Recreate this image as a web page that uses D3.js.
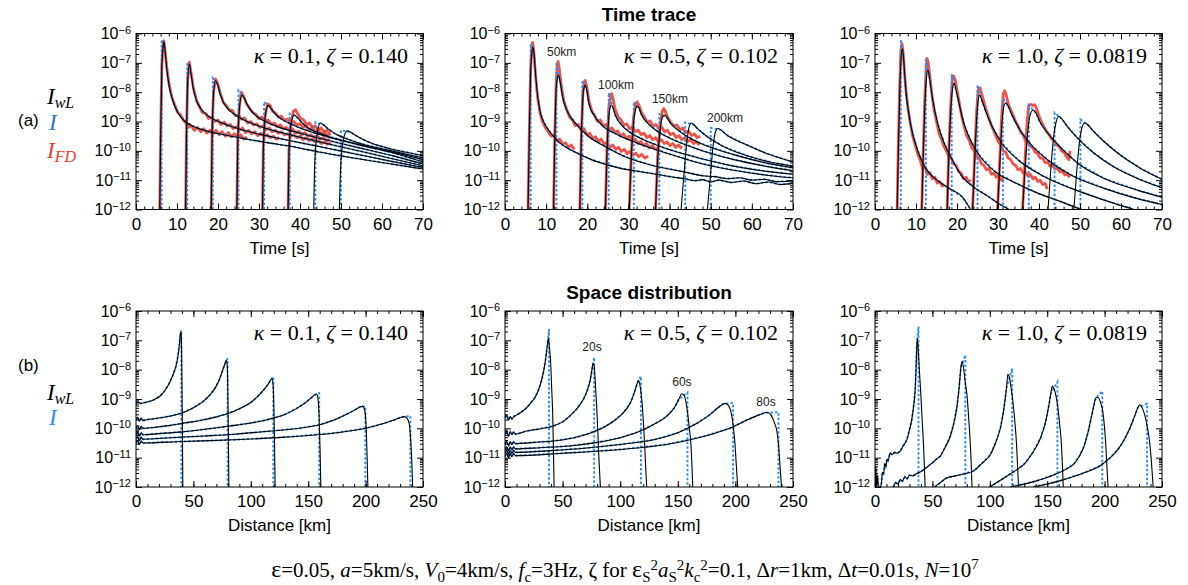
<!DOCTYPE html>
<html><head><meta charset="utf-8">
<script src="https://cdn.jsdelivr.net/npm/d3@7"></script>
<style>body{margin:0;background:#fff}svg{display:block}</style>
</head><body>
<svg id="fig" width="1188" height="585"></svg>
<script>
// ---------- axis ticks ----------
const timeTicks = [0, 10, 20, 30, 40, 50, 60, 70];
const timeMinor = d3.range(0, 71, 2);
const distTicks = [0, 50, 100, 150, 200, 250];
const distMinor = d3.range(0, 251, 10);
const decadeExps = [-12, -11, -10, -9, -8, -7, -6];

// ---------- (a) time traces: [time s, log10 intensity] ----------
// kappa = 0.1
const wlTime01 = [
  [[5.8,-12],[6.0,-9.6],[6.3,-7.2],[6.6,-6.45],[6.8,-6.28],[7.1,-6.6],[7.5,-7.2],[8.1,-7.8],[9,-8.3],[10.2,-8.7],[12,-9.0],[14.5,-9.2],[18,-9.35],[22,-9.47],[27,-9.6],[32,-9.72],[38,-9.85],[45,-10.05],[52,-10.22],[60,-10.4],[70,-10.62]],
  [[12.1,-12],[12.3,-9.6],[12.6,-7.7],[13.0,-7.05],[13.4,-7.35],[14,-7.9],[14.8,-8.3],[16,-8.6],[18,-8.85],[21,-9.05],[25,-9.25],[30,-9.43],[35,-9.58],[40,-9.72],[47,-9.92],[55,-10.15],[62,-10.35],[70,-10.57]],
  [[18.35,-12],[18.55,-9.6],[18.9,-8.1],[19.4,-7.6],[19.9,-7.75],[20.6,-8.1],[21.6,-8.42],[23,-8.65],[25,-8.85],[28,-9.05],[32,-9.25],[36,-9.4],[40,-9.54],[47,-9.77],[55,-10.02],[62,-10.25],[70,-10.51]],
  [[24.6,-12],[24.8,-9.8],[25.2,-8.6],[25.8,-8.1],[26.4,-8.2],[27.2,-8.45],[28.5,-8.7],[30,-8.88],[32,-9.03],[35,-9.2],[40,-9.4],[45,-9.58],[50,-9.75],[57,-9.98],[63,-10.18],[70,-10.45]],
  [[30.85,-12],[31.05,-10],[31.5,-8.85],[32.2,-8.45],[32.9,-8.55],[34,-8.75],[35.5,-8.92],[37.5,-9.07],[40,-9.22],[45,-9.45],[50,-9.65],[56,-9.85],[63,-10.08],[70,-10.38]],
  [[37.1,-12],[37.3,-10.1],[37.8,-9.1],[38.6,-8.78],[39.4,-8.87],[40.5,-9.05],[42,-9.22],[44,-9.36],[47,-9.51],[50,-9.63],[55,-9.8],[60,-9.96],[65,-10.12],[70,-10.3]],
  [[43.35,-12],[43.6,-10.4],[44.2,-9.4],[45.0,-9.05],[45.8,-9.12],[47,-9.27],[49,-9.45],[52,-9.62],[56,-9.8],[60,-9.93],[65,-10.08],[70,-10.24]],
  [[49.6,-12],[49.9,-10.6],[50.6,-9.6],[51.5,-9.32],[52.3,-9.36],[53.5,-9.47],[55.5,-9.62],[58,-9.77],[62,-9.93],[66,-10.05],[70,-10.17]]
];
const onsetTime01 = [6.25, 12.5, 18.75, 25, 31.25, 37.5, 43.75, 50];
const peakTime01 = [-6.2, -6.97, -7.53, -7.95, -8.33, -8.73, -9.03, -9.3];
const fdTime01 = [
  [[5.8,-12],[6.0,-9.5],[6.3,-7.1],[6.6,-6.35],[6.8,-6.25],[7.1,-6.6],[7.5,-7.15],[8.1,-7.75],[8.8,-8.2],[9.5,-8.45],[10.2,-8.7],[10.8,-8.75],[11.5,-8.95],[12.2,-9.05],[12.8,-9.2],[13.5,-9.15],[14.2,-9.3],[15,-9.2],[15.8,-9.35],[16.5,-9.25],[17.3,-9.4],[18,-9.3],[18.8,-9.42],[19.5,-9.3],[20.3,-9.45],[21,-9.35],[21.8,-9.5],[22.5,-9.38],[23.3,-9.52],[24,-9.42],[24.8,-9.55],[25.5,-9.45],[26.3,-9.6],[27,-9.52]],
  [[12.1,-12],[12.3,-9.5],[12.6,-7.6],[13.0,-6.98],[13.4,-7.3],[14,-7.85],[14.8,-8.3],[15.5,-8.5],[16.2,-8.7],[17,-8.72],[17.7,-8.9],[18.5,-8.85],[19.2,-9.0],[20,-8.95],[20.7,-9.1],[21.5,-9.02],[22.2,-9.15],[23,-9.1],[23.7,-9.25],[24.5,-9.18],[25.2,-9.3],[26,-9.22],[26.7,-9.38],[27.5,-9.3],[28.2,-9.42],[29,-9.35],[29.7,-9.48],[30.5,-9.4],[31.2,-9.5],[32,-9.45],[32.7,-9.55],[33.5,-9.5],[34.2,-9.6],[35,-9.55]],
  [[18.35,-12],[18.55,-9.5],[18.9,-8.0],[19.4,-7.55],[19.9,-7.7],[20.6,-8.05],[21.3,-8.35],[22,-8.45],[22.7,-8.6],[23.5,-8.62],[24.2,-8.8],[25,-8.78],[25.7,-8.92],[26.5,-8.88],[27.2,-9.05],[28,-9.0],[28.7,-9.12],[29.5,-9.08],[30.2,-9.2],[31,-9.15],[31.7,-9.28],[32.5,-9.22],[33.2,-9.35],[34,-9.3],[34.7,-9.4],[35.5,-9.35],[36.2,-9.45],[37,-9.42],[37.7,-9.5],[38.5,-9.45],[39.2,-9.55],[40,-9.5],[40.7,-9.62],[41.5,-9.55],[42.2,-9.65],[43,-9.6],[43.7,-9.7],[44.5,-9.65],[45.2,-9.75],[46,-9.7],[46.7,-9.78],[47.5,-9.72]],
  [[24.6,-12],[24.8,-9.7],[25.2,-8.5],[25.7,-8.0],[26.3,-8.15],[27,-8.4],[27.7,-8.55],[28.5,-8.7],[29.2,-8.75],[30,-8.9],[30.7,-8.85],[31.5,-9.0],[32.2,-8.95],[33,-9.1],[33.7,-9.05],[34.5,-9.18],[35.2,-9.12],[36,-9.25],[36.7,-9.2],[37.5,-9.32],[38.2,-9.25],[39,-9.38],[39.7,-9.33],[40.5,-9.45],[41.2,-9.38],[42,-9.5],[42.7,-9.45],[43.5,-9.55],[44.2,-9.5],[45,-9.6],[45.7,-9.55],[46.5,-9.65],[47.3,-9.6]],
  [[30.85,-12],[31.05,-9.9],[31.5,-8.8],[32.1,-8.4],[32.7,-8.45],[33.3,-8.65],[34,-8.7],[34.7,-8.85],[35.5,-8.82],[36.2,-8.95],[37,-8.92],[37.7,-9.05],[38.5,-9.0],[39.2,-9.12],[40,-9.08],[40.7,-9.2],[41.5,-9.15],[42.2,-9.28],[43,-9.22],[43.7,-9.35],[44.5,-9.3],[45.2,-9.42],[46,-9.38],[46.7,-9.48],[47.5,-9.42]],
  [[37.1,-12],[37.3,-10],[37.8,-9.0],[38.4,-8.65],[38.9,-8.6],[39.5,-8.75],[40.2,-8.9],[40.9,-8.95],[41.6,-9.1],[42.3,-9.05],[43,-9.2],[43.7,-9.15],[44.4,-9.28],[45.1,-9.22],[45.8,-9.35],[46.5,-9.3],[47.3,-9.4]]
];

// kappa = 0.5
const wlTime05 = [
  [[5.6,-12],[5.9,-9.5],[6.2,-7.5],[6.5,-6.7],[6.8,-6.45],[7.1,-6.75],[7.5,-7.5],[8,-8.2],[8.6,-8.7],[9.6,-9.07],[11.2,-9.41],[13.2,-9.72],[16.4,-10.0],[21,-10.3],[27.6,-10.58],[35.6,-10.77],[41,-10.9],[44,-10.96],[46,-11.02],[48,-10.98],[50,-11.06],[52,-11.0],[55,-11.08],[58,-11.03],[61,-11.12],[64,-11.06],[67,-11.15],[70,-11.1]],
  [[11.8,-12],[12.1,-9.6],[12.4,-8.0],[12.7,-7.55],[13.0,-7.42],[13.4,-7.65],[14,-8.16],[15.2,-8.67],[17.2,-9.07],[20.4,-9.52],[24.4,-9.86],[29.2,-10.2],[35.6,-10.49],[43.6,-10.72],[48,-10.85],[51,-10.88],[54,-10.95],[57,-10.92],[60,-11.0],[63,-10.97],[66,-11.05],[70,-11.02]],
  [[18.2,-12],[18.5,-9.8],[18.9,-8.3],[19.2,-7.85],[19.5,-7.76],[19.9,-7.95],[20.4,-8.39],[21.6,-8.78],[23.6,-9.13],[27.6,-9.47],[32.4,-9.75],[39.6,-10.09],[47.6,-10.43],[55.6,-10.66],[63.6,-10.83],[70,-10.92]],
  [[24.4,-12],[24.8,-10],[25.2,-8.9],[25.6,-8.5],[25.9,-8.44],[26.3,-8.55],[26.8,-8.78],[28.4,-9.13],[30.8,-9.41],[34.8,-9.69],[40.4,-9.98],[47.6,-10.26],[55.6,-10.52],[63.6,-10.7],[70,-10.8]],
  [[30.2,-12],[30.7,-10.2],[31.2,-9.1],[31.7,-8.6],[32.1,-8.48],[32.6,-8.55],[33.2,-8.78],[34.8,-9.07],[37.2,-9.35],[41.2,-9.64],[47.6,-9.98],[55.6,-10.3],[63.6,-10.53],[70,-10.68]],
  [[36.6,-12],[37.1,-10.3],[37.7,-9.3],[38.2,-8.88],[38.7,-8.78],[39.3,-8.85],[40.2,-9.05],[41.6,-9.24],[44.4,-9.52],[47.6,-9.75],[55.6,-10.13],[63.6,-10.42],[70,-10.58]],
  [[42.8,-12],[43.5,-10.8],[44.2,-9.7],[44.8,-9.15],[45.3,-9.05],[46,-9.12],[46.8,-9.24],[49.2,-9.52],[53.2,-9.86],[59.6,-10.2],[65,-10.4],[70,-10.52]],
  [[49.2,-12],[49.9,-10.9],[50.6,-9.8],[51.2,-9.33],[51.7,-9.24],[52.4,-9.28],[54,-9.47],[58,-9.75],[63.6,-10.09],[70,-10.38]]
];
const onsetTime05 = [6.24, 12.5, 18.8, 25.2, 31.3, 37.5, 43.8, 50];
const peakTime05 = [-6.34, -6.97, -7.6, -8.02, -8.33, -8.75, -9.03, -9.22];
const fdTime05 = [
  [[5.6,-12],[5.9,-9.4],[6.2,-7.3],[6.5,-6.45],[6.7,-6.3],[7.0,-6.6],[7.4,-7.4],[7.9,-8.15],[8.5,-8.7],[9.1,-9.0],[9.8,-9.2],[10.5,-9.35],[11.2,-9.5],[11.9,-9.45],[12.6,-9.65],[13.3,-9.6],[14,-9.78],[14.7,-9.72],[15.4,-9.88],[16.1,-9.8],[16.8,-9.95]],
  [[11.8,-12],[12.1,-9.5],[12.4,-7.8],[12.7,-7.1],[12.9,-6.95],[13.2,-7.2],[13.7,-7.8],[14.3,-8.3],[15,-8.6],[15.7,-8.85],[16.4,-8.95],[17.1,-9.15],[17.8,-9.1],[18.5,-9.3],[19.2,-9.25],[19.9,-9.45],[20.6,-9.4],[21.3,-9.58],[22,-9.52],[22.7,-9.68],[23.4,-9.6],[24.1,-9.78],[24.8,-9.7],[25.5,-9.88],[26.2,-9.8],[26.9,-9.95],[27.6,-9.88],[28.3,-10.02],[29,-9.95],[29.7,-10.1],[30.4,-10.02],[31.1,-10.15],[31.8,-10.08],[32.5,-10.2],[33.2,-10.12],[34,-10.25],[34.8,-10.18]],
  [[18.2,-12],[18.5,-9.7],[18.9,-8.1],[19.2,-7.65],[19.5,-7.6],[19.9,-7.85],[20.4,-8.3],[21.1,-8.65],[21.8,-8.8],[22.5,-9.0],[23.2,-8.95],[23.9,-9.15],[24.6,-9.1],[25.3,-9.28],[26,-9.22],[26.7,-9.38],[27.4,-9.32],[28.1,-9.5],[28.8,-9.42],[29.5,-9.58],[30.2,-9.5],[30.9,-9.66],[31.6,-9.6],[32.3,-9.75],[33,-9.68],[33.7,-9.82],[34.4,-9.75],[35.1,-9.9],[35.8,-9.82],[36.5,-9.95],[37.2,-9.88]],
  [[24.4,-12],[24.8,-9.9],[25.2,-8.6],[25.6,-8.15],[25.9,-8.05],[26.3,-8.25],[26.8,-8.6],[27.5,-8.85],[28.2,-8.95],[28.9,-9.12],[29.6,-9.08],[30.3,-9.25],[31,-9.2],[31.7,-9.35],[32.4,-9.3],[33.1,-9.45],[33.8,-9.4],[34.5,-9.55],[35.2,-9.48],[35.9,-9.62],[36.6,-9.55],[37.3,-9.7],[38,-9.62],[38.7,-9.75],[39.4,-9.7],[40.1,-9.82],[40.8,-9.75],[41.5,-9.88],[42.2,-9.8],[43,-9.92]],
  [[30.2,-12],[30.7,-10.1],[31.2,-8.9],[31.7,-8.45],[32.1,-8.33],[32.6,-8.45],[33.2,-8.7],[33.9,-8.85],[34.6,-9.02],[35.3,-8.98],[36,-9.15],[36.7,-9.1],[37.4,-9.25],[38.1,-9.2],[38.8,-9.35],[39.5,-9.3],[40.2,-9.45],[40.9,-9.4],[41.6,-9.55],[42.3,-9.48],[43,-9.62],[43.7,-9.55],[44.4,-9.68],[45.1,-9.62],[45.8,-9.75],[46.5,-9.7],[47.3,-9.8]],
  [[36.6,-12],[37.1,-10.2],[37.7,-9.1],[38.2,-8.65],[38.6,-8.56],[39.1,-8.7],[39.7,-8.9],[40.4,-9.05],[41.1,-9.15],[41.8,-9.12],[42.5,-9.28],[43.2,-9.22],[43.9,-9.38],[44.6,-9.32],[45.3,-9.48],[46,-9.42],[46.7,-9.55],[47.5,-9.5]]
];

// kappa = 1.0
const wlTime10 = [
  [[5.4,-12],[5.7,-10],[6.0,-8.2],[6.3,-7.0],[6.7,-6.51],[7.0,-6.9],[7.3,-7.5],[7.6,-8.05],[8.2,-8.7],[8.8,-9.18],[10.1,-9.86],[11.7,-10.43],[13.3,-10.77],[15.7,-11.06],[18.1,-11.28],[21.3,-11.57],[23.3,-12]],
  [[11.4,-12],[11.8,-10],[12.2,-8.3],[12.5,-7.6],[12.9,-7.25],[13.3,-7.5],[13.7,-7.9],[14.1,-8.27],[15.3,-9.07],[16.9,-9.75],[18.9,-10.32],[21.3,-10.89],[24.5,-11.28],[27.8,-11.57],[30.2,-11.8],[32.6,-12]],
  [[17.6,-12],[18.0,-10.2],[18.5,-8.6],[18.9,-7.9],[19.3,-7.7],[19.8,-7.95],[20.5,-8.39],[21.7,-9.07],[23.3,-9.64],[25.7,-10.2],[29.4,-10.72],[34.2,-11.09],[39.8,-11.45],[45.5,-11.74],[50.3,-12]],
  [[23.8,-12],[24.3,-10.4],[24.8,-8.9],[25.2,-8.25],[25.5,-8.1],[26,-8.25],[26.9,-8.61],[28.6,-9.18],[31,-9.75],[35,-10.32],[40.6,-10.83],[47.9,-11.28],[55.9,-11.68],[63.2,-12]],
  [[29.9,-12],[30.4,-10.6],[30.9,-9.2],[31.4,-8.5],[31.9,-8.36],[32.5,-8.48],[33.4,-8.78],[35.4,-9.3],[38.2,-9.81],[42.2,-10.32],[47.9,-10.83],[55.9,-11.28],[64,-11.63],[70,-11.83]],
  [[36.0,-12],[36.6,-10.6],[37.3,-9.3],[37.9,-8.75],[38.6,-8.61],[39.3,-8.72],[40.2,-9.01],[42.2,-9.41],[45.5,-9.92],[49.5,-10.43],[55.9,-10.94],[64,-11.34],[70,-11.58]],
  [[42.2,-12],[42.9,-10.6],[43.6,-9.5],[44.2,-9.0],[44.8,-8.82],[45.5,-8.9],[46.7,-9.13],[49.5,-9.58],[53.5,-10.09],[58.3,-10.55],[64,-10.94],[70,-11.26]],
  [[48.5,-12],[49.2,-10.7],[49.9,-9.65],[50.5,-9.2],[51.1,-9.05],[51.8,-9.1],[53.1,-9.3],[55.9,-9.69],[59.9,-10.15],[64.8,-10.6],[70,-10.97]]
];
const onsetTime10 = [6.3, 12.4, 18.7, 25.0, 31.2, 37.5, 43.8, 50.1];
const peakTime10 = [-6.2, -6.82, -7.39, -7.76, -8.2, -8.44, -8.7, -8.93];
const fdTime10 = [
  [[5.4,-12],[5.7,-9.8],[6.0,-7.9],[6.3,-6.6],[6.6,-6.35],[6.9,-6.7],[7.2,-7.35],[7.6,-8.0],[8.1,-8.6],[8.6,-9.05],[9.2,-9.5],[9.8,-9.8],[10.4,-10.1],[11.0,-10.3],[11.6,-10.6],[12.2,-10.55],[12.8,-10.8],[13.4,-10.75],[14,-10.95],[14.6,-10.9],[15.2,-11.1],[15.8,-11.05],[16.4,-11.2],[17,-11.15]],
  [[11.4,-12],[11.8,-9.8],[12.2,-8.0],[12.5,-7.1],[12.7,-6.85],[13.0,-7.0],[13.4,-7.5],[13.9,-8.1],[14.4,-8.6],[15,-9.0],[15.6,-9.4],[16.2,-9.6],[16.8,-9.85],[17.4,-10.0],[18,-10.2],[18.6,-10.25],[19.2,-10.45],[19.8,-10.5],[20.4,-10.7],[21,-10.75],[21.6,-10.95],[22.2,-10.9],[22.8,-11.05],[23.4,-11.0]],
  [[17.6,-12],[18.0,-10.0],[18.5,-8.3],[18.9,-7.5],[19.2,-7.45],[19.6,-7.6],[20.1,-8.0],[20.6,-8.4],[21.2,-8.85],[21.8,-9.2],[22.4,-9.5],[23,-9.65],[23.6,-9.9],[24.2,-10.0],[24.8,-10.2],[25.4,-10.25],[26,-10.45],[26.6,-10.5],[27.2,-10.65],[27.8,-10.6],[28.4,-10.8],[29,-10.75],[29.6,-10.9],[30.2,-10.85],[30.8,-11.0],[31.4,-10.95]],
  [[23.8,-12],[24.3,-10.2],[24.8,-8.6],[25.2,-7.9],[25.6,-7.85],[26,-8.05],[26.5,-8.3],[27.1,-8.6],[27.7,-8.85],[28.3,-9.1],[28.9,-9.3],[29.5,-9.5],[30.1,-9.7],[30.7,-9.8],[31.3,-10.0],[31.9,-10.05],[32.5,-10.25],[33.1,-10.3],[33.7,-10.45],[34.3,-10.5],[34.9,-10.65],[35.5,-10.6],[36.1,-10.75],[36.7,-10.72],[37.3,-10.85],[37.9,-10.8],[38.5,-10.95],[39.1,-10.9],[39.7,-11.05],[40.3,-11.0],[40.9,-11.15],[41.5,-11.1],[42,-11.3]],
  [[29.9,-12],[30.4,-10.4],[30.9,-8.8],[31.3,-8.05],[31.6,-7.95],[32,-8.1],[32.5,-8.4],[33.1,-8.6],[33.7,-8.8],[34.3,-9.0],[34.9,-9.15],[35.5,-9.35],[36.1,-9.45],[36.7,-9.65],[37.3,-9.7],[37.9,-9.85],[38.5,-9.9],[39.1,-10.05],[39.7,-10.1],[40.3,-10.25],[40.9,-10.25],[41.5,-10.4],[42.1,-10.38],[42.7,-10.52],[43.3,-10.5],[43.9,-10.62],[44.5,-10.6],[45.1,-10.72],[45.7,-10.7],[46.3,-10.82],[46.9,-10.8],[47.5,-10.9]],
  [[36.0,-12],[36.6,-10.3],[37.1,-9.0],[37.5,-8.45],[38.0,-8.42],[38.5,-8.45],[39,-8.43],[39.5,-8.6],[40.1,-8.85],[40.7,-9.05],[41.3,-9.2],[41.9,-9.35],[42.5,-9.45],[43.1,-9.6],[43.7,-9.65],[44.3,-9.8],[44.9,-9.85],[45.5,-10.0],[46.1,-10.05],[46.7,-10.2],[47.3,-10.3],[47.6,-10.0]]
];

// ---------- (b) space distributions: [distance km, log10 intensity] ----------
const wlSpace01 = [
  [[0,-9.14],[2,-9.1],[4,-9.15],[8,-9.12],[13,-9.07],[17,-9.0],[21.5,-8.88],[25,-8.72],[29,-8.46],[32,-8.2],[34.7,-7.9],[36.5,-7.55],[37.8,-7.15],[38.7,-6.72],[39.3,-6.78],[39.8,-7.6],[40.3,-9.5],[40.8,-12]],
  [[0,-9.71],[1.5,-9.62],[3,-9.76],[4.5,-9.66],[6,-9.73],[10,-9.7],[20,-9.65],[30,-9.58],[40,-9.48],[50,-9.3],[58,-9.1],[64,-8.88],[69,-8.62],[72.5,-8.35],[75,-8.08],[77,-7.85],[78.6,-7.68],[79.3,-7.78],[79.9,-8.5],[80.4,-10],[80.9,-12]],
  [[0,-9.99],[1.5,-9.9],[3,-10.05],[4.5,-9.93],[6,-10.0],[15,-9.97],[30,-9.9],[42,-9.82],[55,-9.74],[71,-9.6],[82,-9.47],[91.5,-9.31],[100,-9.12],[106,-8.91],[111,-8.7],[115,-8.5],[117.5,-8.34],[118.6,-8.32],[119.4,-8.5],[120.1,-9.3],[120.7,-10.6],[121.2,-12]],
  [[0,-10.22],[1.5,-10.12],[3,-10.27],[4.5,-10.15],[6,-10.22],[20,-10.18],[40,-10.12],[56.6,-10.05],[80,-9.93],[100,-9.82],[115,-9.7],[129,-9.54],[140,-9.32],[147,-9.14],[152,-8.98],[155.7,-8.86],[157.2,-8.83],[158.4,-8.95],[159.5,-9.6],[160.3,-10.7],[161,-12]],
  [[0,-10.37],[1.5,-10.28],[3,-10.42],[4.5,-10.3],[6,-10.37],[30,-10.32],[60,-10.26],[85.7,-10.2],[115,-10.1],[144,-9.99],[160,-9.88],[173,-9.71],[183,-9.53],[190.7,-9.37],[195,-9.27],[197.3,-9.25],[199,-9.35],[200.3,-9.8],[201.2,-10.8],[202,-12]],
  [[0,-10.5],[1.5,-10.42],[3,-10.55],[4.5,-10.44],[6,-10.5],[40,-10.45],[85.7,-10.39],[130,-10.3],[173,-10.16],[200,-10.0],[217,-9.82],[226,-9.7],[231,-9.62],[234,-9.6],[236.5,-9.68],[238,-9.85],[239.3,-10.4],[240.3,-11.2],[241,-12]]
];
const frontSpace01 = [39.5, 79.8, 119.6, 159.6, 199.8, 239];
const peakSpace01 = [-6.66, -7.62, -8.23, -8.8, -9.24, -9.58];

const wlSpace05 = [
  [[0,-9.64],[1.5,-9.55],[3,-9.72],[4.5,-9.6],[6,-9.68],[7.5,-9.6],[9.9,-9.55],[14,-9.45],[18.7,-9.3],[22,-9.15],[26,-8.95],[29,-8.7],[31.8,-8.35],[33.8,-8.0],[35.6,-7.55],[36.8,-7.15],[37.6,-6.93],[38.5,-7.2],[39.7,-7.8],[40.6,-8.7],[41.4,-9.5],[42,-10.6],[42.6,-12]],
  [[0,-10.2],[1.5,-10.1],[3,-10.28],[4.5,-10.12],[6,-10.22],[7.5,-10.12],[9,-10.2],[18.7,-10.09],[30,-10.02],[42,-9.92],[50,-9.78],[56.6,-9.57],[62,-9.35],[68.2,-9.0],[71.5,-8.7],[74,-8.35],[75.3,-8.05],[76.3,-7.8],[77.3,-7.85],[78.4,-8.46],[79.5,-9.2],[80.5,-10.05],[81.5,-11],[82.8,-12]],
  [[0,-10.54],[1.5,-10.44],[3,-10.6],[4.5,-10.45],[6,-10.56],[7.5,-10.46],[9,-10.52],[25,-10.48],[42,-10.43],[60,-10.32],[71,-10.2],[85,-9.98],[94.5,-9.75],[102,-9.5],[109,-9.12],[112.5,-8.75],[114.9,-8.45],[115.8,-8.36],[117,-8.5],[119.2,-9.24],[120.3,-9.9],[121.3,-10.6],[122.2,-11.4],[123,-12]],
  [[0,-10.72],[1.5,-10.62],[3,-10.78],[4.5,-10.63],[6,-10.74],[7.5,-10.64],[9,-10.7],[30,-10.66],[56,-10.6],[80,-10.48],[100,-10.32],[116,-10.12],[129.4,-9.86],[140,-9.6],[147,-9.3],[151,-9.0],[153.4,-8.82],[155.5,-8.88],[158.6,-9.5],[160,-10.0],[161.5,-10.6],[162.3,-11.3],[163,-12]],
  [[0,-10.84],[1.5,-10.74],[3,-10.9],[4.5,-10.76],[6,-10.86],[7.5,-10.76],[9,-10.82],[40,-10.76],[71,-10.67],[100,-10.55],[129,-10.39],[150,-10.15],[167,-9.82],[177,-9.56],[184.8,-9.3],[189,-9.18],[191.2,-9.15],[193.5,-9.2],[196.5,-9.5],[198.2,-9.95],[199.4,-10.4],[200.7,-11.2],[202,-12]],
  [[0,-10.95],[1.5,-10.85],[3,-11.0],[4.5,-10.86],[6,-10.97],[7.5,-10.86],[9,-10.93],[50,-10.85],[100,-10.72],[140,-10.55],[173,-10.27],[195,-10.0],[211,-9.7],[220,-9.55],[225.7,-9.47],[228,-9.46],[231,-9.55],[234,-9.82],[236,-10.1],[237.3,-10.5],[238.6,-11.2],[240,-12]]
];
const frontSpace05 = [38.2, 77.4, 118.0, 158.4, 198.0, 237.4];
const peakSpace05 = [-6.62, -7.58, -8.23, -8.78, -9.13, -9.45];

const wlSpace10 = [
  [[0,-11.8],[0.7,-11.3],[1.4,-12],[2.2,-11.6],[3,-12],[4.4,-12],[5.5,-11.9],[6.5,-11.5],[7.5,-11.55],[8.5,-11.2],[9.5,-11.3],[10.5,-11.05],[11.5,-11.1],[13.1,-10.84],[15,-10.9],[17,-10.82],[19,-10.85],[21.9,-10.78],[24.5,-10.6],[27.7,-10.39],[30,-10.05],[32,-9.71],[33.6,-9.25],[35,-8.69],[35.8,-7.9],[36.4,-7.2],[36.8,-6.93],[37.5,-7.2],[38.5,-7.9],[40,-8.9],[41.2,-9.8],[42.3,-10.6],[43,-11.3],[43.7,-12]],
  [[16,-12],[18,-11.85],[20,-11.9],[21.9,-11.75],[24,-11.8],[26,-11.65],[28,-11.72],[30,-11.6],[33,-11.62],[36,-11.55],[39,-11.5],[42.3,-11.41],[46,-11.3],[50,-11.18],[53.5,-11.05],[56.9,-10.95],[61,-10.65],[65.6,-10.27],[68.5,-9.85],[71.4,-9.26],[73.3,-8.6],[74.9,-7.9],[75.8,-7.72],[77,-7.9],[78.5,-8.4],[80.2,-8.9],[81.7,-9.7],[83.1,-10.6],[84,-11.4],[84.5,-12]],
  [[52,-12],[56.9,-11.85],[62,-11.7],[70,-11.62],[78,-11.55],[86,-11.45],[93,-11.2],[100.6,-10.89],[105,-10.5],[109.3,-9.98],[112,-9.4],[114.6,-8.61],[115.7,-8.16],[117,-8.25],[118.5,-8.6],[120.4,-9.18],[122,-9.85],[123.3,-10.55],[124.2,-11.3],[125,-12]],
  [[100,-12],[110,-11.75],[118,-11.55],[124,-11.4],[129.7,-11.23],[137,-10.85],[144.3,-10.32],[148.5,-9.8],[151.6,-9.18],[153.2,-8.8],[154.5,-8.56],[156,-8.65],[158.9,-9.18],[160.8,-9.85],[162.4,-10.55],[163.3,-11.3],[164,-12]],
  [[118,-12],[140,-11.8],[155,-11.6],[166,-11.4],[173.5,-11.2],[178,-10.95],[182.2,-10.6],[185.5,-10.15],[188,-9.7],[190.5,-9.25],[192.4,-8.96],[194.3,-8.95],[196.3,-9.1],[198.3,-9.4],[199.8,-9.9],[201,-10.55],[202,-11.3],[203,-12]],
  [[138,-12],[160,-11.8],[180,-11.55],[195,-11.3],[205,-11.0],[212,-10.7],[217,-10.4],[222,-10.0],[226,-9.6],[228.9,-9.3],[230.5,-9.2],[232.5,-9.28],[235,-9.55],[237.2,-9.95],[239,-10.4],[240.5,-11.0],[241.6,-11.6],[242.3,-12]]
];
const frontSpace10 = [37.9, 78.7, 119.5, 158.9, 198.0, 237.0];
const peakSpace10 = [-6.53, -7.5, -7.96, -8.42, -8.73, -9.16];

// ---------- page labels ----------
const kappaLabels = [["0.1", "0.140"], ["0.5", "0.102"], ["1.0", "0.0819"]];
const rangeLabels = ["50km", "100km", "150km", "200km"];
const rangeAnchor = [[10.2, -6.77], [22.6, -7.89], [35.7, -8.37], [49.1, -9.02]];
const lapseLabels = ["20s", "60s", "80s"];
const lapseAnchor = [[75.5, -7.36], [153.6, -8.56], [226.6, -9.24]];

// ---------- layout ----------
const colX = [[136, 423], [505, 793], [875, 1162]];
const rowY = [[33.5, 209.5], [311, 487]];
const BLUE = "#2b8ef0", RED = "#ee3a2e", BLACK = "#000";
const SANS = "'Liberation Sans', Arial, Helvetica, sans-serif";
const SERIF = "'Liberation Serif', 'Times New Roman', serif";

const svg = d3.select("#fig");
const defs = svg.append("defs");
const ten = e => Math.pow(10, e);
const minorLog = [];
for (let d = -12; d < -6; d++) for (let k = 2; k <= 9; k++) minorLog.push(k * ten(d));

// blue solution of the time traces: jump at the onset, then the decay shared with I_wL
function blueTime(curve, onset, peak) {
  const top = d3.maxIndex(curve, d => d[1]);
  return [[onset, -12], [onset, peak]].concat(curve.slice(top + 1));
}
// blue solution of the space profiles: rising flank shared with I_wL, drop at the front
function blueSpace(curve, front, peak) {
  const top = d3.maxIndex(curve, d => d[1]);
  return curve.slice(0, top).concat([[front, peak], [front, -12]]);
}

function drawPanel(id, row, col, o) {
  const [x0, x1] = colX[col], [y0, y1] = rowY[row];
  const x = d3.scaleLinear().domain(o.xDomain).range([x0, x1]);
  const y = d3.scaleLog().domain([1e-12, 1e-6]).range([y1, y0]);
  defs.append("clipPath").attr("id", "clip" + id)
    .append("rect").attr("x", x0).attr("y", y0).attr("width", x1 - x0).attr("height", y1 - y0);
  const g = svg.append("g");
  const plot = g.append("g").attr("clip-path", `url(#clip${id})`);
  const straight = d3.line().x(d => x(d[0])).y(d => y(ten(d[1])));
  const smooth = d3.line().x(d => x(d[0])).y(d => y(ten(d[1]))).curve(d3.curveMonotoneX);

  (o.fd || []).forEach(s => plot.append("path").attr("d", straight(s))
    .attr("fill", "none").attr("stroke", RED).attr("stroke-width", 2.8)
    .attr("stroke-linejoin", "round").attr("opacity", 0.88));
  o.blue.forEach(s => plot.append("path").attr("d", straight(s))
    .attr("fill", "none").attr("stroke", BLUE).attr("stroke-width", 1.9)
    .attr("stroke-dasharray", "2.5,2"));
  o.wl.forEach(s => plot.append("path").attr("d", smooth(s))
    .attr("fill", "none").attr("stroke", BLACK).attr("stroke-width", 1.1));

  // inward ticks on all four sides
  const fix = sel => sel.call(s => s.select(".domain").remove())
    .attr("font-family", SANS).attr("font-size", 16);
  const yl = g.append("g").attr("transform", `translate(${x0},0)`)
    .call(d3.axisLeft(y).tickValues(decadeExps.map(ten)).tickSize(-6).tickPadding(5).tickFormat(() => ""));
  fix(yl);
  yl.selectAll(".tick text").each(function (d) {
    const t = d3.select(this);
    t.append("tspan").text("10");
    t.append("tspan").attr("dy", "-0.5em").attr("font-size", "11px").text("\u2212" + (-Math.round(Math.log10(d))));
  });
  g.append("g").attr("transform", `translate(${x0},0)`)
    .call(d3.axisLeft(y).tickValues(minorLog).tickSize(-3).tickFormat(() => "")).call(fix);
  g.append("g").attr("transform", `translate(${x1},0)`)
    .call(d3.axisRight(y).tickValues(decadeExps.map(ten)).tickSize(-6).tickFormat(() => "")).call(fix);
  g.append("g").attr("transform", `translate(${x1},0)`)
    .call(d3.axisRight(y).tickValues(minorLog).tickSize(-3).tickFormat(() => "")).call(fix);
  g.append("g").attr("transform", `translate(0,${y1})`)
    .call(d3.axisBottom(x).tickValues(o.major).tickSize(-6).tickPadding(8).tickFormat(d3.format("d"))).call(fix)
    .attr("font-size", 17);
  g.append("g").attr("transform", `translate(0,${y1})`)
    .call(d3.axisBottom(x).tickValues(o.minor).tickSize(-3).tickFormat(() => "")).call(fix);
  g.append("g").attr("transform", `translate(0,${y0})`)
    .call(d3.axisTop(x).tickValues(o.major).tickSize(-6).tickFormat(() => "")).call(fix);
  g.append("g").attr("transform", `translate(0,${y0})`)
    .call(d3.axisTop(x).tickValues(o.minor).tickSize(-3).tickFormat(() => "")).call(fix);
  g.append("rect").attr("x", x0).attr("y", y0).attr("width", x1 - x0).attr("height", y1 - y0)
    .attr("fill", "none").attr("stroke", BLACK).attr("stroke-width", 1);

  // axis title
  g.append("text").attr("x", (x0 + x1) / 2).attr("y", y1 + 44).attr("text-anchor", "middle")
    .attr("font-family", SANS).attr("font-size", 17).text(o.xTitle);

  // kappa / zeta annotation
  const k = g.append("text").attr("x", x1 - 15).attr("y", y0 + 29).attr("text-anchor", "end")
    .attr("font-family", SERIF).attr("font-size", 22);
  k.append("tspan").attr("font-style", "italic").text("\u03ba");
  k.append("tspan").text(" = " + o.kappa[0] + ", ");
  k.append("tspan").attr("font-style", "italic").text("\u03b6");
  k.append("tspan").text(" = " + o.kappa[1]);
  return { x, y, g };
}

// ---------- top row ----------
const timeSets = [
  [wlTime01, onsetTime01, peakTime01, fdTime01],
  [wlTime05, onsetTime05, peakTime05, fdTime05],
  [wlTime10, onsetTime10, peakTime10, fdTime10]
];
const topPanels = timeSets.map(([wl, on, pk, fd], i) => drawPanel("t" + i, 0, i, {
  xDomain: [0, 70], major: timeTicks, minor: timeMinor, xTitle: "Time [s]",
  wl, fd, blue: wl.map((c, j) => blueTime(c, on[j], pk[j])), kappa: kappaLabels[i]
}));

// ---------- bottom row ----------
const spaceSets = [
  [wlSpace01, frontSpace01, peakSpace01],
  [wlSpace05, frontSpace05, peakSpace05],
  [wlSpace10, frontSpace10, peakSpace10]
];
const botPanels = spaceSets.map(([wl, fr, pk], i) => drawPanel("b" + i, 1, i, {
  xDomain: [0, 250], major: distTicks, minor: distMinor, xTitle: "Distance [km]",
  wl, blue: wl.map((c, j) => blueSpace(c, fr[j], pk[j])), kappa: kappaLabels[i]
}));

// ---------- in-panel annotations (middle column) ----------
const tm = topPanels[1];
rangeLabels.forEach((s, i) => tm.g.append("text")
  .attr("x", tm.x(rangeAnchor[i][0])).attr("y", tm.y(ten(rangeAnchor[i][1])))
  .attr("font-family", SANS).attr("font-size", 12).attr("fill", "#222").text(s));
const bm = botPanels[1];
lapseLabels.forEach((s, i) => bm.g.append("text")
  .attr("x", bm.x(lapseAnchor[i][0])).attr("y", bm.y(ten(lapseAnchor[i][1]))).attr("text-anchor", "middle")
  .attr("font-family", SANS).attr("font-size", 12).attr("fill", "#222").text(s));

// ---------- titles ----------
const midX = (colX[1][0] + colX[1][1]) / 2;
svg.append("text").attr("x", midX).attr("y", 21).attr("text-anchor", "middle")
  .attr("font-family", SANS).attr("font-weight", "bold").attr("font-size", 19).text("Time trace");
svg.append("text").attr("x", midX).attr("y", 299).attr("text-anchor", "middle")
  .attr("font-family", SANS).attr("font-weight", "bold").attr("font-size", 19).text("Space distribution");

// ---------- row keys ----------
function sym(x, y, sub, color) {
  const t = svg.append("text").attr("x", x).attr("y", y).attr("font-family", SERIF)
    .attr("font-style", "italic").attr("font-size", 23).attr("fill", color);
  t.append("tspan").text("I");
  if (sub) t.append("tspan").attr("dy", 4).attr("font-size", 16).text(sub);
}
svg.append("text").attr("x", 18).attr("y", 126).attr("font-family", SANS).attr("font-size", 17).text("(a)");
sym(47, 104, "wL", BLACK);
sym(49, 130, "", "#2f6fe0");
sym(47, 158, "FD", RED);
svg.append("text").attr("x", 18).attr("y", 371).attr("font-family", SANS).attr("font-size", 17).text("(b)");
sym(47, 400, "wL", BLACK);
sym(49, 425, "", BLUE);

// ---------- caption ----------
const cap = svg.append("text").attr("x", 625).attr("y", 577).attr("text-anchor", "middle")
  .attr("font-family", SERIF).attr("font-size", 21);
const piece = (s, opt = {}) => {
  const t = cap.append("tspan").text(s);
  if (opt.it) t.attr("font-style", "italic");
  if (opt.dy) t.attr("dy", opt.dy);
  if (opt.fs) t.attr("font-size", opt.fs);
  return t;
};
piece("\u03b5", { fs: 24 }); piece("=0.05, ");
piece("a", { it: 1 }); piece("=5km/s, ");
piece("V", { it: 1 }); piece("0", { dy: 5, fs: 15 }); piece("=4km/s, ", { dy: -5 });
piece("f", { it: 1 }); piece("c", { dy: 5, fs: 15 }); piece("=3Hz, \u03b6 for ", { dy: -5 });
piece("\u03b5", { fs: 24 }); piece("S", { dy: 5, fs: 15 }); piece("2", { dy: -12, fs: 15 });
piece("a", { it: 1, dy: 7 }); piece("S", { dy: 5, fs: 15 }); piece("2", { dy: -12, fs: 15 });
piece("k", { it: 1, dy: 7 }); piece("c", { dy: 5, fs: 15 }); piece("2", { dy: -12, fs: 15 });
piece("=0.1, \u0394", { dy: 7 }); piece("r", { it: 1 }); piece("=1km, \u0394");
piece("t", { it: 1 }); piece("=0.01s, "); piece("N", { it: 1 }); piece("=10");
piece("7", { dy: -8, fs: 15 });
</script>
</body></html>
